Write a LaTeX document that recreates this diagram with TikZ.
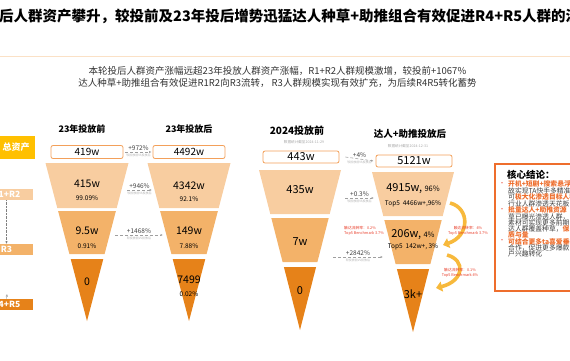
\documentclass[tikz,border=0pt]{standalone}
\usepackage{fontspec}
\setmainfont{Noto Sans CJK SC}
\usetikzlibrary{positioning, arrows.meta, calc}
\definecolor{TierA}{RGB}{248,205,160}
\definecolor{TierB}{RGB}{243,178,105}
\definecolor{TierC}{RGB}{230,130,25}
\definecolor{GoldTot}{RGB}{255,192,0}
\definecolor{BoxLine}{RGB}{243,160,90}
\definecolor{KeyOrange}{RGB}{238,110,45}
\definecolor{RedNote}{RGB}{232,60,40}
\definecolor{FlowYellow}{RGB}{247,185,60}
\newcommand{\hl}[1]{{\color{KeyOrange}\bfseries #1}}
\newcommand{\fsz}[1]{\fontsize{#1}{#1}\selectfont}

\begin{document}
\begin{tikzpicture}[x=1pt, y=-1pt,
    stagehead/.style={font=\bfseries\fsz{9}},
    datenote/.style={font=\fsz{3.6}, text=gray!70},
    totbox/.style={draw=BoxLine, fill=white, rounded corners=2pt, line width=0.8pt, minimum width=72pt, minimum height=13pt, inner sep=0pt, font=\fsz{10}},
    bignum/.style={font=\fsz{10.5}},
    smallpct/.style={font=\fsz{6.5}},
    growarr/.style={-{Latex[length=2.5pt,width=2.2pt]}, densely dashed, draw=gray!75, line width=0.6pt},
    growlbl/.style={font=\fsz{6.5}, text=black!75, inner sep=1pt},
    growsub/.style={font=\fsz{3}, text=gray!60, inner sep=1.2pt},
    redlbl/.style={font=\fsz{3.8}, text=RedNote, align=center, inner sep=0pt},
    flowarr/.style={-{Triangle[length=6pt,width=10pt]}, line width=3.6pt, draw=FlowYellow},
    tierbox/.style={minimum width=53pt, minimum height=11pt, inner sep=0pt, text=white, font=\bfseries\fsz{8.5}},
    keyline/.style={anchor=west, inner sep=0pt, font=\fsz{6.8}, text=black!75}]
  \useasboundingbox (0,0) rectangle (570,360);
  \clip (0,0) rectangle (570,360);

  % title and summary
  \node[anchor=west, inner sep=0pt, font=\bfseries\fsz{14.5}] (title) at (-1,16.5) {后人群资产攀升，较投前及23年投后增势迅猛达人种草+助推组合有效促进R4+R5人群的流转};
  \draw[TierA!60, line width=0.6pt] (0,56) -- (570,56);
  \node[align=center, font=\fontsize{9.5}{12.5}\selectfont, text=black!80] (summary) at (277.5,76.8)
    {本轮投后人群资产涨幅远超23年投放人群资产涨幅，R1+R2人群规模激增，较投前+1067\%\\
     达人种草+助推组合有效促进R1R2向R3流转， R3人群规模实现有效扩充，为后续R4R5转化蓄势};

  % tiers on the left
  \node[tierbox, fill=GoldTot, minimum width=38pt, minimum height=23pt, font=\bfseries\fsz{9}] (tot) at (16,147.5) {总资产};
  \node[tierbox, fill=TierA] (r12) at (6.5,194.5) {R1+R2};
  \node[tierbox, fill=TierB] (r3) at (6.5,249.5) {R3};
  \node[tierbox, fill=TierC] (r45) at (6.5,304.5) {R4+R5};
  \coordinate (r45up) at (7,294);
  \draw[densely dotted, gray, -{Latex[length=2.5pt,width=2.5pt]}] (r12.south) -- (r3.north);
  \draw[gray!70, -{Latex[length=2.5pt,width=2.5pt]}] (r45.north) -- (r45up);

  % funnels of 2023
  \foreach \cx in {87,189} {
    \fill[TierA] ({\cx-41.5},163) -- ({\cx+41.5},163) -- ({\cx+29.7},208) -- ({\cx-29.7},208) -- cycle;
    \fill[TierB] ({\cx-28.9},211) -- ({\cx+28.9},211) -- ({\cx+17.6},254) -- ({\cx-17.6},254) -- cycle;
    \fill[TierC] ({\cx-16.3},259) -- ({\cx+16.3},259) -- (\cx,321) -- cycle;
  }
  % funnels of 2024
  \foreach \cx/\dy in {300/0,413/2} {
    \fill[TierA] ({\cx-41},170+\dy) -- ({\cx+41},170+\dy) -- ({\cx+29.7},214+\dy) -- ({\cx-29.7},214+\dy) -- cycle;
    \fill[TierB] ({\cx-28.7},218+\dy) -- ({\cx+28.7},218+\dy) -- ({\cx+17.4},262+\dy) -- ({\cx-17.4},262+\dy) -- cycle;
    \fill[TierC] ({\cx-16.1},267+\dy) -- ({\cx+16.1},267+\dy) -- (\cx,330+\dy) -- cycle;
  }

  % 23 before
  \node[stagehead] (h1) at (82,129) {23年投放前};
  \node[totbox] (b419) at (87,152) {419w};
  \node[bignum] (n415) at (87,184) {415w};
  \node[smallpct] at (87,198) {99.09\%};
  \node[bignum] (n95) at (87,231) {9.5w};
  \node[smallpct] at (87,246) {0.91\%};
  \node[bignum] (n0a) at (87,282) {0};

  % 23 after
  \node[stagehead] (h2) at (189,129) {23年投放后};
  \node[totbox] (b4492) at (189,152) {4492w};
  \node[bignum] (n4342) at (189,186) {4342w};
  \node[smallpct] at (189,199) {92.1\%};
  \node[bignum] (n149) at (189,231) {149w};
  \node[smallpct] at (189,246) {7.88\%};
  \node[bignum] (n7499) at (189,280) {7499};
  \node[smallpct] at (189,294) {0.02\%};

  % 2024 before
  \node[stagehead, font=\bfseries\fsz{10}] (h3) at (297,131) {2024投放前};
  \node[datenote] at (304,142) {数据统计截至2024-11-29};
  \node[totbox, minimum width=76pt, minimum height=12pt, font=\fsz{11}] (b443) at (301,157) {443w};
  \node[bignum, font=\fsz{11}] (n435) at (300,190) {435w};
  \node[bignum, font=\fsz{11}] (n7) at (300,242) {7w};
  \node[bignum, font=\fsz{11}] (n0b) at (300,291) {0};

  % KOL + boost after
  \node[stagehead, font=\bfseries\fsz{9.5}] (h4) at (410,134) {达人+助推投放后};
  \node[datenote] at (408,146) {数据统计截至2024-12-31};
  \node[totbox, minimum width=76pt, minimum height=12pt, font=\fsz{11}] (b5121) at (414,161) {5121w};
  \node[font=\fsz{11}] (n4915) at (413,189) {4915w, {\fsz{7.5}96\%}};
  \node[font=\fsz{6.5}] at (413,204) {Top5\ \ 4466w+,96\%};
  \node[font=\fsz{11}] (n206) at (413,235) {206w, {\fsz{7.5}4\%}};
  \node[font=\fsz{6.5}] at (413,247) {Top5\ \ 142w+, 3\%};
  \node[font=\fsz{11}] (n3k) at (413,294) {3k+};

  % growth arrows
  \coordinate (g2s) at (127,190);  \coordinate (g2e) at (152,190);
  \coordinate (g3s) at (115,235);  \coordinate (g3e) at (163,235);
  \coordinate (g5s) at (345,198);  \coordinate (g5e) at (374,198);
  \coordinate (g6s) at (333,257);  \coordinate (g6e) at (383,257);
  \draw[growarr] ([xshift=2pt]b419.east) -- ([xshift=-1pt]b4492.west)
    node[midway, above, growlbl] {+972\%} node[midway, below, growsub] {较投放前VS投放后};
  \draw[growarr] (g2s) -- (g2e)
    node[midway, above, growlbl] {+946\%} node[midway, below, growsub] {较投放前VS投放后};
  \draw[growarr] (g3s) -- (g3e)
    node[midway, above, growlbl] {+1468\%} node[midway, below, growsub] {较投放前VS投放后};
  \draw[growarr] ([xshift=6pt]b443.east) -- ([xshift=-2pt]b5121.west)
    node[midway, above, growlbl] {+4\%} node[midway, below, growsub] {较投放前VS投放后};
  \draw[growarr] (g5s) -- (g5e)
    node[midway, above, growlbl] {+0.3\%} node[midway, below, growsub] {较投放前VS投放后};
  \draw[growarr] (g6s) -- (g6e)
    node[midway, above, growlbl] {+2842\%} node[midway, below, growsub] {较投放前VS投放后};

  % flow between tiers
  \node[redlbl, anchor=west, align=left] (rate0) at (344,231) {触达流转率：0.2\%\\[0.6pt]Top5 Benchmark 3.7\%};
  \coordinate (a1s) at (450,203);  \coordinate (a1e) at (443,245);
  \coordinate (a2s) at (447,255);  \coordinate (a2e) at (436,288);
  \draw[flowarr] (a1s) .. controls (470,208) and (470,236) .. (a1e);
  \draw[flowarr] (a2s) .. controls (466,260) and (464,281) .. (a2e);
  \node[redlbl] (rate1) at (468,231) {触达流转率：4\%\\[0.6pt]Top5 Benchmark 3.7\%};
  \node[redlbl] (rate2) at (460,273) {触达流转率：0.1\%\\[0.6pt]Top5 Benchmark 4\%};

  % key conclusions
  \node[draw=KeyOrange, line width=2pt, fill=white, anchor=north west, minimum width=150pt, minimum height=127pt] (concl) at (494,163) {};
  \node[keyline, font=\bfseries\fsz{9.5}, text=black] (khead) at (507,175) {核心结论：};
  \foreach \yb in {184,210,241.5}
    \node[text=RedNote, font=\fsz{6}, inner sep=0pt] at (502,\yb) {•};
  \node[keyline] (k1) at (508,184) {\hl{开机+短剧+搜索悬浮}};
  \node[keyline] (k2) at (508,190.5) {故实现TA快手多精准};
  \node[keyline] (k3) at (508,197) {可\hl{极大化渗透目标人群}};
  \node[keyline] (k4) at (508,203.5) {行业人群渗透天花板};
  \node[keyline] (k5) at (508,210) {\hl{批量达人+助推资源}};
  \node[keyline] (k6) at (508,216.5) {草已曝光渗透人群，};
  \node[keyline] (k7) at (508,222.8) {素材可实现更多前期};
  \node[keyline] (k8) at (508,229) {达人群覆盖种草，\hl{保}};
  \node[keyline] (k9) at (508,235.3) {\hl{质与量}};
  \node[keyline] (k10) at (508,241.5) {\hl{可结合更多ta喜爱垂类}};
  \node[keyline] (k11) at (508,247.8) {合作，促进更多爆款};
  \node[keyline] (k12) at (508,254) {户兴趣转化};
\end{tikzpicture}
\end{document}
